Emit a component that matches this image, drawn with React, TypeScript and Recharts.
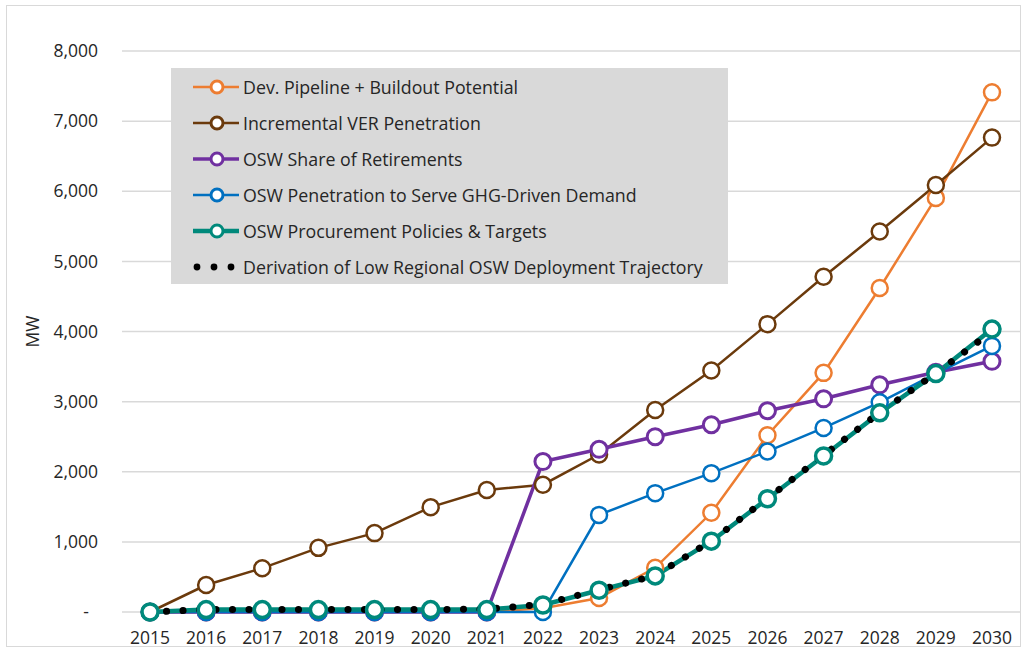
import React from "react";
import { LineChart, Line, XAxis, YAxis, CartesianGrid } from "recharts";

const years = [
  "2015", "2016", "2017", "2018", "2019", "2020", "2021", "2022",
  "2023", "2024", "2025", "2026", "2027", "2028", "2029", "2030",
];

const devPipeline = [0, 0, 0, 0, 0, 0, 0, 55, 200, 630, 1415, 2520, 3410, 4620, 5905, 7410];
const incrementalVer = [0, 385, 625, 915, 1125, 1495, 1740, 1815, 2245, 2880, 3445, 4105, 4780, 5425, 6090, 6765];
const retirementsShare = [0, 0, 0, 0, 0, 0, 0, 2145, 2320, 2500, 2670, 2870, 3040, 3240, 3420, 3575];
const ghgDemand = [0, 0, 0, 0, 0, 0, 0, 0, 1385, 1695, 1980, 2290, 2625, 2990, 3400, 3795];
const procurement = [0, 35, 35, 35, 35, 35, 35, 100, 310, 515, 1010, 1615, 2225, 2840, 3400, 4035];
const lowTrajectory = [0, 35, 35, 35, 35, 35, 40, 110, 315, 520, 1015, 1620, 2235, 2845, 3405, 4000];

const yTicks = [0, 1000, 2000, 3000, 4000, 5000, 6000, 7000, 8000];

const series = [
  { key: "dev", name: "Dev. Pipeline + Buildout Potential", values: devPipeline, color: "#ED7D31", width: 2.5, ring: 2.5 },
  { key: "ver", name: "Incremental VER Penetration", values: incrementalVer, color: "#6B3A0C", width: 2.5, ring: 2.5 },
  { key: "ret", name: "OSW Share of Retirements", values: retirementsShare, color: "#7030A0", width: 3.5, ring: 3 },
  { key: "ghg", name: "OSW Penetration to Serve GHG-Driven Demand", values: ghgDemand, color: "#0070C0", width: 2.5, ring: 2.5 },
  { key: "proc", name: "OSW Procurement Policies & Targets", values: procurement, color: "#00897B", width: 4.5, ring: 3.5 },
];

const trajectoryName = "Derivation of Low Regional OSW Deployment Trajectory";

const data = years.map((year, i) => {
  const row: Record<string, string | number> = { year };
  series.forEach((s) => (row[s.key] = s.values[i]));
  row.low = lowTrajectory[i];
  return row;
});

const FONT = "'Open Sans', sans-serif";
const TEXT = "#262626";

const YTick = (props: any) => {
  const { x, y, payload } = props;
  const isZero = payload.value === 0;
  return (
    <text
      x={isZero ? x - 9 : x}
      y={y}
      dy="0.35em"
      textAnchor="end"
      fill={TEXT}
      fontSize={17.5}
      fontFamily={FONT}
    >
      {isZero ? "-" : payload.value.toLocaleString("en-US")}
    </text>
  );
};

function LegendBox() {
  return (
    <div
      style={{
        position: "absolute",
        left: 171,
        top: 68,
        width: 557,
        height: 216,
        background: "#D9D9D9",
        fontFamily: FONT,
        fontSize: 17.8,
        color: TEXT,
      }}
    >
      {series.map((s, i) => (
        <div
          key={s.key}
          style={{ position: "absolute", left: 22, top: 1 + i * 36, height: 36, display: "flex", alignItems: "center", whiteSpace: "nowrap" }}
        >
          <svg width={46} height={20} style={{ marginRight: 4 }}>
            <line x1={0} y1={10} x2={46} y2={10} stroke={s.color} strokeWidth={s.width} />
            <circle cx={24} cy={10} r={6} fill="#fff" stroke={s.color} strokeWidth={3} />
          </svg>
          <span>{s.name}</span>
        </div>
      ))}
      <div
        style={{ position: "absolute", left: 22, top: 1 + 5 * 36, height: 36, display: "flex", alignItems: "center", whiteSpace: "nowrap" }}
      >
        <svg width={46} height={20} style={{ marginRight: 4 }}>
          {[0, 1, 2].map((k) => (
            <circle key={k} cx={4 + k * 17} cy={10} r={3.4} fill="#000" />
          ))}
        </svg>
        <span>{trajectoryName}</span>
      </div>
    </div>
  );
}

export default function App() {
  return (
    <div style={{ position: "absolute", left: 0, top: 0, width: 1029, height: 652, background: "#fff" }}>
      <div
        style={{
          position: "absolute",
          left: 6,
          top: 5,
          width: 1015,
          height: 642,
          border: "1px solid #D9D9D9",
          boxSizing: "border-box",
        }}
      />
      <LineChart
        width={1029}
        height={652}
        data={data}
        margin={{ top: 51, right: 9, bottom: 0, left: 0 }}
      >
        <CartesianGrid vertical={false} stroke="#D9D9D9" strokeWidth={1.5} />
        <XAxis
          dataKey="year"
          scale="point"
          padding={{ left: 28, right: 28 }}
          axisLine={false}
          tickLine={false}
          tickSize={0}
          tickMargin={20}
          height={40}
          interval={0}
          tick={{ fill: TEXT, fontSize: 17.5, fontFamily: FONT }}
        />
        <YAxis
          domain={[0, 8000]}
          ticks={yTicks}
          width={122}
          axisLine={false}
          tickLine={false}
          tickSize={0}
          tickMargin={24}
          tick={<YTick />}
          label={{
            value: "MW",
            angle: -90,
            position: "insideLeft",
            offset: 33,
            style: { textAnchor: "middle", fill: TEXT, fontSize: 17.5, fontFamily: FONT },
          }}
        />
        {series.map((s) => (
          <Line
            key={s.key}
            type="linear"
            dataKey={s.key}
            name={s.name}
            stroke={s.color}
            strokeWidth={s.width}
            dot={{ r: 8, fill: "#fff", stroke: s.color, strokeWidth: s.ring }}
            activeDot={false}
            isAnimationActive={false}
          />
        ))}
        <Line
          type="linear"
          dataKey="low"
          name={trajectoryName}
          stroke="#000"
          strokeWidth={7}
          strokeDasharray="0.1 16.4"
          strokeLinecap="round"
          dot={false}
          activeDot={false}
          isAnimationActive={false}
        />
      </LineChart>
      <LegendBox />
    </div>
  );
}
